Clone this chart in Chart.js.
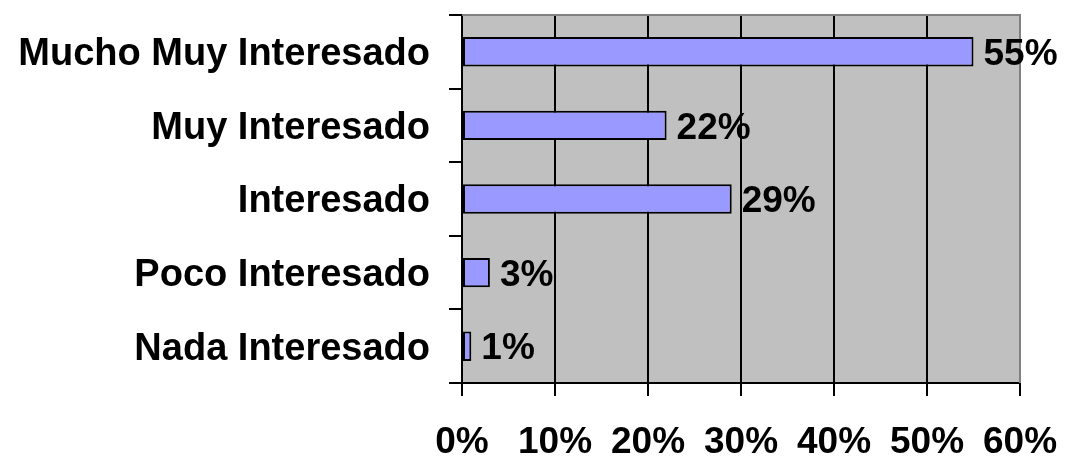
<!DOCTYPE html>
<html>
<head>
<meta charset="utf-8">
<script src="https://cdn.jsdelivr.net/npm/chart.js@4.4.1/dist/chart.umd.min.js"></script>
<style>
html,body{margin:0;padding:0;background:#fff;}
#wrap{width:1066px;height:457px;}
</style>
</head>
<body>
<div id="wrap"><canvas id="c" width="1066" height="457"></canvas></div>
<script>
const categories = ["Mucho Muy Interesado", "Muy Interesado", "Interesado", "Poco Interesado", "Nada Interesado"];
const values = [55, 22, 29, 3, 1];
const xTicks = [0, 10, 20, 30, 40, 50, 60];

const FONT = "'Liberation Sans', Arial, sans-serif";

const bgPlugin = {
  id: 'bg',
  beforeDraw(chart) {
    const a = chart.chartArea, ctx = chart.ctx;
    ctx.save();
    ctx.fillStyle = '#C0C0C0';
    ctx.fillRect(a.left, a.top, a.right - a.left, a.bottom - a.top);
    ctx.restore();
  },
  afterDatasetsDraw(chart) {
    const a = chart.chartArea, ctx = chart.ctx;
    ctx.save();
    ctx.strokeStyle = '#808080';
    ctx.lineWidth = 2;
    ctx.beginPath();
    ctx.moveTo(a.left, a.top);
    ctx.lineTo(a.right, a.top);
    ctx.lineTo(a.right, a.bottom);
    ctx.stroke();
    // value labels
    const meta = chart.getDatasetMeta(0);
    ctx.fillStyle = '#000';
    ctx.font = 'bold 37px ' + FONT;
    ctx.textAlign = 'left';
    ctx.textBaseline = 'middle';
    meta.data.forEach((bar, i) => {
      ctx.fillText(values[i] + '%', bar.x + 10, bar.y + 3);
    });
    ctx.restore();
  }
};

new Chart(document.getElementById('c'), {
  type: 'bar',
  data: {
    labels: categories,
    datasets: [{
      data: values,
      backgroundColor: '#9999FF',
      borderColor: '#000000',
      borderWidth: 2,
      borderSkipped: false,
      barPercentage: 0.4,
      categoryPercentage: 1.0
    }]
  },
  options: {
    indexAxis: 'y',
    responsive: false,
    animation: false,
    devicePixelRatio: 1,
    layout: { padding: { top: 15, right: 46, left: 0, bottom: 0 } },
    plugins: { legend: { display: false }, tooltip: { enabled: false } },
    scales: {
      x: {
        min: 0, max: 60,
        afterBuildTicks(s) { s.ticks = xTicks.map(v => ({ value: v })); },
        afterFit(s) { s.height = 74; s.paddingLeft = 0; s.paddingRight = 0; },
        ticks: {
          callback: v => v + '%',
          color: '#000',
          font: { family: FONT, size: 37, weight: 'bold' },
          padding: 25,
          maxRotation: 0, autoSkip: false
        },
        grid: { color: '#000', lineWidth: 2, tickLength: 13, drawOnChartArea: true },
        border: { color: '#000', width: 2 }
      },
      y: {
        afterFit(s) { s.width = 462; s.paddingTop = 0; s.paddingBottom = 0; },
        ticks: {
          color: '#000',
          font: { family: FONT, size: 38, weight: 'bold' },
          padding: 19,
          labelOffset: 3,
          autoSkip: false
        },
        grid: { offset: true, drawOnChartArea: false, color: '#000', lineWidth: 2, tickLength: 13 },
        border: { color: '#000', width: 2 }
      }
    }
  },
  plugins: [bgPlugin]
});
</script>
</body>
</html>
